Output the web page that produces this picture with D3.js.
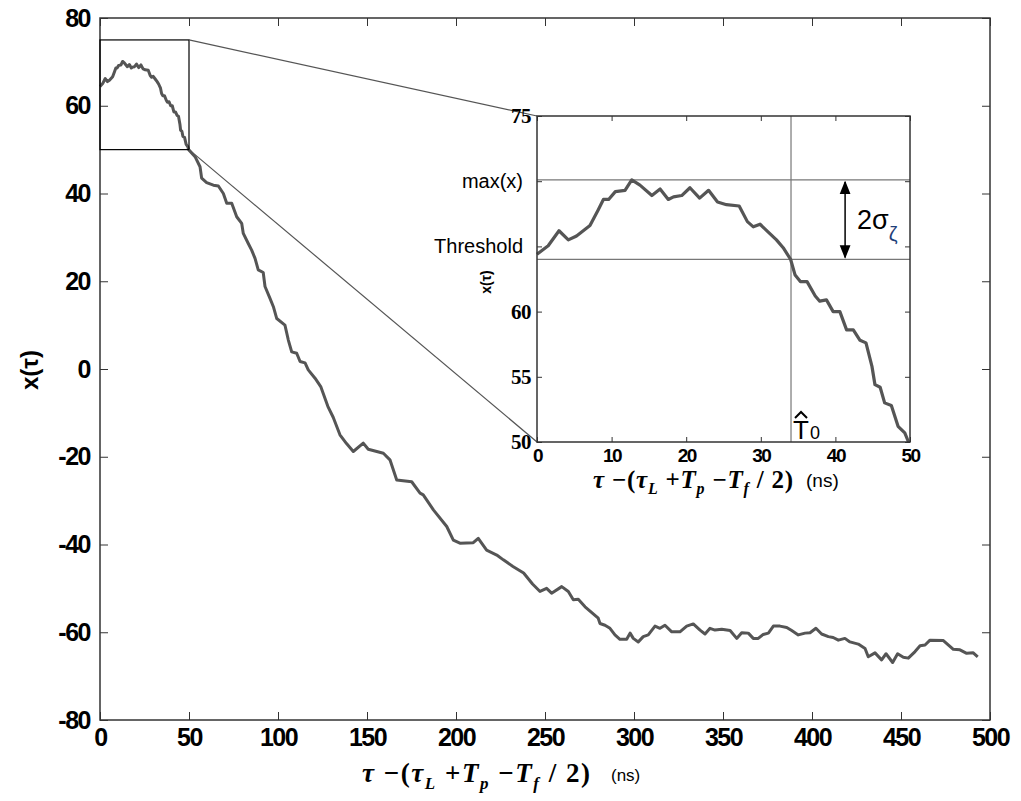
<!DOCTYPE html>
<html>
<head>
<meta charset="utf-8">
<script src="https://cdn.jsdelivr.net/npm/d3@7"></script>
<style>
  body { margin: 0; background: #fff; }
  svg { display: block; }
  .tick text { font-family: "Liberation Sans", Arial, sans-serif; font-weight: bold; fill: #000; }
</style>
</head>
<body>
<svg width="1021" height="801"></svg>
<script>
// inset samples, 0..50 ns (same signal, zoomed)
const zoomT = [0, 1.5, 2.95, 4.2, 5.3, 7.1, 8.2, 8.9, 9.6, 10.5, 11.8, 12.7, 13.8, 15.4, 16.5, 17.6, 18.3, 19.4, 20.5, 21.8, 23.0, 24.2, 25.4, 27.1, 28.2, 29.0, 29.9, 31.0, 32.1, 33.0, 34.0, 34.6, 35.3, 36.2, 37.3, 37.9, 38.8, 39.7, 40.6, 41.5, 42.4, 43.3, 44.1, 44.9, 45.3, 46.0, 46.6, 47.5, 48.4, 49.3, 49.8];
const zoomV = [64.4, 65.05, 66.2, 65.5, 65.8, 66.6, 67.8, 68.6, 68.6, 69.2, 69.3, 70.1, 69.7, 68.9, 69.4, 68.6, 68.8, 68.9, 69.5, 68.7, 69.3, 68.4, 68.2, 68.1, 66.9, 66.5, 66.7, 66.1, 65.5, 64.9, 64.0, 62.8, 62.3, 62.3, 61.2, 60.8, 60.9, 60.0, 60.0, 58.6, 58.6, 57.8, 57.6, 55.8, 54.4, 54.2, 53.0, 52.8, 51.2, 50.7, 50.0];

// rest of the trace, 50..495 ns
const tailT = [53.4, 56.2, 57.1, 59.9, 63.7, 66.5, 69.3, 71.2, 74.0, 76.8, 79.6, 80.5, 83.3, 85.2, 87.1, 88.9, 91.7, 92.7, 95.5, 97.4, 99.3, 103.9, 105.8, 107.7, 110.5, 112.4, 115.2, 117.0, 120.8, 124, 128, 131, 134.8, 138.5, 142.3, 147.9, 150.7, 159.2, 162.9, 166.7, 175.1, 179.8, 181.6, 187.3, 194.8, 198.5, 202.2, 209.7, 212.5, 217.2, 222.9, 226.6, 232, 238, 243, 247.2, 250.9, 253.7, 259.4, 263.1, 265.9, 268.7, 272.5, 279.9, 280.9, 283.7, 286.5, 289.3, 292.1, 295.9, 297.8, 299.6, 302.4, 305.2, 308.0, 311.8, 314.6, 317.4, 321.2, 325.8, 329.6, 333.3, 337.1, 339.9, 342.7, 345.5, 349.3, 354.0, 357.7, 360.5, 364.2, 367.0, 369.8, 372.6, 375.5, 378.3, 382.0, 385.8, 388.6, 392.3, 396.1, 398.9, 402.2, 405.4, 409.2, 411.9, 414.8, 418.5, 421.3, 426.0, 429.8, 431.6, 435.4, 439.1, 441.6, 445.3, 448.1, 451.3, 454.1, 457.9, 460.7, 463.5, 466.3, 473.8, 479.4, 483.1, 486.9, 490.6, 493.1];
const tailV = [48.4, 46.1, 43.5, 42.5, 41.9, 41.7, 40.0, 37.8, 37.8, 34.7, 33.2, 30.9, 28.6, 27.1, 25.2, 22.6, 22.0, 18.8, 16.1, 14.2, 11.5, 10.0, 6.6, 3.9, 3.6, 1.7, 1.4, -0.2, -2.1, -4.0, -8.5, -11, -15.0, -17.0, -18.8, -16.9, -18.3, -19.2, -20.7, -25.3, -25.7, -28.3, -28.7, -32.1, -35.9, -39.0, -39.7, -39.6, -38.6, -41.3, -42.4, -43.5, -45, -46.5, -49, -50.7, -50.0, -51.1, -49.6, -50.7, -52.6, -52.5, -54.2, -56.8, -58.0, -58.4, -59.1, -60.6, -61.6, -61.6, -60.2, -61.4, -62.2, -61.0, -60.6, -58.6, -59.1, -58.4, -59.9, -59.9, -58.6, -58.1, -59.5, -60.4, -59.1, -59.5, -59.3, -59.6, -61.4, -60.1, -60.2, -61.4, -61.4, -60.5, -60.2, -58.6, -58.6, -58.9, -59.6, -60.6, -60.2, -60.1, -59.1, -60.4, -61.0, -61.2, -61.8, -61.4, -62.2, -62.7, -63.7, -65.6, -64.7, -66.3, -64.9, -66.9, -64.9, -65.7, -65.9, -64.4, -63.1, -62.9, -61.8, -61.9, -63.9, -64.0, -64.8, -64.7, -65.6];

const mainXTicks = [0, 50, 100, 150, 200, 250, 300, 350, 400, 450, 500];
const mainYTicks = [-80, -60, -40, -20, 0, 20, 40, 60, 80];
const insetXTicks = [0, 10, 20, 30, 40, 50];
const insetYTicks = [50, 55, 60, 65, 70, 75];

const maxX = 70.1;        // max(x)
const threshold = 64.0;   // max(x) - 2 sigma
const t0Hat = 34.05;      // threshold crossing
const zoomBox = {t: [0, 50], v: [50, 75]};

const mainData = zoomT.map((t, i) => [t, zoomV[i]])
    .concat(tailT.map((t, i) => [t, tailV[i]]));
const insetData = zoomT.map((t, i) => [t, zoomV[i]]);

const svg = d3.select("svg");
const curveColor = "#555";
const fmt = d => d < 0 ? "-" + Math.abs(d) : String(d);

// ---------- main plot ----------
const x = d3.scaleLinear().domain([0, 500]).range([100, 990]);
const y = d3.scaleLinear().domain([-80, 80]).range([720, 18]);

const main = svg.append("g");

main.append("path")
    .datum(mainData)
    .attr("fill", "none")
    .attr("stroke", curveColor)
    .attr("stroke-width", 3)
    .attr("stroke-linejoin", "round")
    .attr("d", d3.line().x(d => x(d[0])).y(d => y(d[1])));

function styleAxis(g, size, family) {
    g.select(".domain").remove();
    g.selectAll(".tick line").attr("stroke", "#333");
    g.selectAll(".tick text").style("font-size", size + "px").style("letter-spacing", "-1.5px");
    if (family) g.selectAll(".tick text").style("font-family", family).style("letter-spacing", "-0.5px");
}

main.append("g")
    .attr("transform", "translate(0,720)")
    .call(d3.axisBottom(x).tickValues(mainXTicks).tickSize(-8).tickPadding(8).tickFormat(fmt))
    .call(g => styleAxis(g, 25));
main.append("g")
    .attr("transform", "translate(0,18)")
    .call(d3.axisTop(x).tickValues(mainXTicks).tickSize(-8).tickFormat(""))
    .call(g => styleAxis(g, 25));
main.append("g")
    .attr("transform", "translate(100,0)")
    .call(d3.axisLeft(y).tickValues(mainYTicks).tickSize(-8).tickPadding(10).tickFormat(fmt))
    .call(g => styleAxis(g, 25));
main.append("g")
    .attr("transform", "translate(990,0)")
    .call(d3.axisRight(y).tickValues(mainYTicks).tickSize(-8).tickFormat(""))
    .call(g => styleAxis(g, 25));

main.append("rect")
    .attr("x", 100).attr("y", 18)
    .attr("width", 890).attr("height", 702)
    .attr("fill", "none").attr("stroke", "#333").attr("stroke-width", 1.5);

// y label
main.append("text")
    .attr("transform", "translate(38,370) rotate(-90)")
    .attr("text-anchor", "middle")
    .style("font-family", "Liberation Sans, Arial, sans-serif")
    .style("font-weight", "bold")
    .style("font-size", "24px")
    .text("x(τ)");

// x label (math) + units
function mathLabel(sel, xPos, yPos, size, width, unitSize, unitX) {
    const t = sel.append("text")
        .attr("x", xPos).attr("y", yPos)
        .attr("textLength", width)
        .attr("lengthAdjust", "spacing")
        .style("font-family", "Liberation Serif, Times New Roman, serif")
        .style("font-weight", "bold")
        .style("font-size", size + "px");
    const sub = Math.round(size * 0.62);
    t.append("tspan").style("font-style", "italic").text("τ");
    t.append("tspan").text(" −(");
    t.append("tspan").style("font-style", "italic").text("τ");
    t.append("tspan").style("font-style", "italic").style("font-size", sub + "px").attr("dy", size * 0.25).text("L");
    t.append("tspan").attr("dy", -size * 0.25).text(" +");
    t.append("tspan").style("font-style", "italic").text("T");
    t.append("tspan").style("font-style", "italic").style("font-size", sub + "px").attr("dy", size * 0.25).text("p");
    t.append("tspan").attr("dy", -size * 0.25).text(" −");
    t.append("tspan").style("font-style", "italic").text("T");
    t.append("tspan").style("font-style", "italic").style("font-size", sub + "px").attr("dy", size * 0.25).text("f");
    t.append("tspan").attr("dy", -size * 0.25).text(" / 2)");
    sel.append("text")
        .attr("x", unitX).attr("y", yPos - 1)
        .style("font-family", "Liberation Sans, Arial, sans-serif")
        .style("font-size", unitSize + "px")
        .text("(ns)");
}
mathLabel(main, 362, 782, 27, 228, 17, 611);

// zoom rectangle
main.append("rect")
    .attr("x", x(zoomBox.t[0])).attr("y", y(zoomBox.v[1]))
    .attr("width", x(zoomBox.t[1]) - x(zoomBox.t[0]))
    .attr("height", y(zoomBox.v[0]) - y(zoomBox.v[1]))
    .attr("fill", "none").attr("stroke", "#000").attr("stroke-width", 1.2);

// ---------- inset ----------
const ix = d3.scaleLinear().domain([0, 50]).range([537, 910]);
const iy = d3.scaleLinear().domain([50, 75]).range([442, 116]);

// connector lines
main.append("line")
    .attr("x1", x(zoomBox.t[1])).attr("y1", y(zoomBox.v[1]))
    .attr("x2", ix(0)).attr("y2", iy(75))
    .attr("stroke", "#555").attr("stroke-width", 1.2);
main.append("line")
    .attr("x1", x(zoomBox.t[1])).attr("y1", y(zoomBox.v[0]))
    .attr("x2", ix(0)).attr("y2", iy(50))
    .attr("stroke", "#555").attr("stroke-width", 1.2);

const inset = svg.append("g");
inset.append("rect")
    .attr("x", 537).attr("y", 116).attr("width", 373).attr("height", 326)
    .attr("fill", "#fff");

// guide lines
inset.append("line")
    .attr("x1", ix(0)).attr("x2", ix(50)).attr("y1", iy(maxX)).attr("y2", iy(maxX))
    .attr("stroke", "#777").attr("stroke-width", 1.2);
inset.append("line")
    .attr("x1", ix(0)).attr("x2", ix(50)).attr("y1", iy(threshold)).attr("y2", iy(threshold))
    .attr("stroke", "#777").attr("stroke-width", 1.2);
inset.append("line")
    .attr("x1", ix(t0Hat)).attr("x2", ix(t0Hat)).attr("y1", iy(75)).attr("y2", iy(50))
    .attr("stroke", "#777").attr("stroke-width", 1.2);

inset.append("path")
    .datum(insetData)
    .attr("fill", "none")
    .attr("stroke", curveColor)
    .attr("stroke-width", 3.2)
    .attr("stroke-linejoin", "round")
    .attr("d", d3.line().x(d => ix(d[0])).y(d => iy(d[1])));

inset.append("g")
    .attr("transform", "translate(0,442)")
    .call(d3.axisBottom(ix).tickValues(insetXTicks).tickSize(-5).tickPadding(7))
    .call(g => styleAxis(g, 19));
inset.append("g")
    .attr("transform", "translate(0,116)")
    .call(d3.axisTop(ix).tickValues(insetXTicks).tickSize(-5).tickFormat(""))
    .call(g => styleAxis(g, 19));
inset.append("g")
    .attr("transform", "translate(537,0)")
    .call(d3.axisLeft(iy).tickValues(insetYTicks).tickSize(-5).tickPadding(6)
        .tickFormat(d => d === 70 ? "max(x)" : d === 65 ? "Threshold" : d))
    .call(g => styleAxis(g, 21, "Liberation Serif, Times New Roman, serif"))
    .call(g => g.selectAll(".tick text")
        .filter(d => d === 65 || d === 70)
        .style("font-family", "Liberation Sans, Arial, sans-serif")
        .style("font-weight", "normal")
        .style("font-size", "20px")
        .style("letter-spacing", "0px")
        .attr("x", -14));
inset.append("g")
    .attr("transform", "translate(910,0)")
    .call(d3.axisRight(iy).tickValues(insetYTicks).tickSize(-5).tickFormat(""))
    .call(g => styleAxis(g, 19));

inset.append("rect")
    .attr("x", 537).attr("y", 116).attr("width", 373).attr("height", 326)
    .attr("fill", "none").attr("stroke", "#333").attr("stroke-width", 1.5);

inset.append("text")
    .attr("transform", "translate(491,282) rotate(-90)")
    .attr("text-anchor", "middle")
    .style("font-family", "Liberation Sans, Arial, sans-serif")
    .style("font-weight", "bold")
    .style("font-size", "14px")
    .text("x(τ)");

mathLabel(inset, 593, 488, 25, 200, 19, 806);

// 2 sigma arrow
svg.append("defs").append("marker")
    .attr("id", "arrow")
    .attr("viewBox", "0 0 10 10")
    .attr("refX", 9).attr("refY", 5)
    .attr("markerWidth", 9).attr("markerHeight", 9)
    .attr("orient", "auto-start-reverse")
    .append("path").attr("d", "M0,1 L10,5 L0,9 Z").attr("fill", "#000");

inset.append("line")
    .attr("x1", ix(41.3)).attr("x2", ix(41.3))
    .attr("y1", iy(maxX) + 2).attr("y2", iy(threshold) - 2)
    .attr("stroke", "#000").attr("stroke-width", 1.5)
    .attr("marker-start", "url(#arrow)")
    .attr("marker-end", "url(#arrow)");

const sig = inset.append("text")
    .attr("x", ix(42.9)).attr("y", iy((maxX + threshold) / 2) + 9)
    .style("font-family", "Liberation Sans, Arial, sans-serif")
    .style("font-size", "27px");
sig.append("tspan").text("2σ");
sig.append("tspan").attr("dy", 12).style("font-size", "20px").attr("fill", "#1f3f7a").text("ζ");

// T0 with hat
const tx = ix(t0Hat) + 2, ty = iy(50) - 3;
inset.append("text")
    .attr("x", tx).attr("y", ty)
    .style("font-family", "Liberation Sans, Arial, sans-serif")
    .style("font-size", "26px")
    .text("T");
inset.append("text")
    .attr("x", tx + 17).attr("y", ty)
    .style("font-family", "Liberation Sans, Arial, sans-serif")
    .style("font-size", "18px")
    .text("0");
inset.append("path")
    .attr("d", `M${tx + 2},${ty - 21} L${tx + 8},${ty - 27} L${tx + 14},${ty - 21}`)
    .attr("fill", "none").attr("stroke", "#000").attr("stroke-width", 2);
</script>
</body>
</html>
